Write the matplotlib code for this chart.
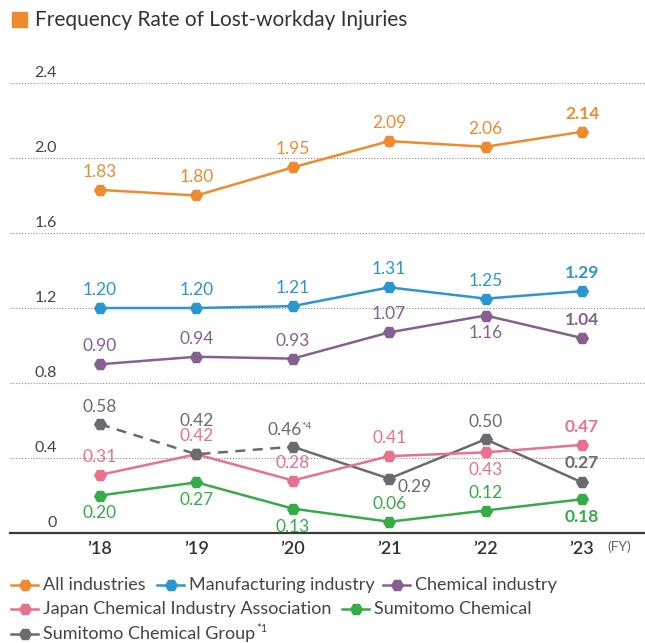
import matplotlib
matplotlib.use("Agg")
from matplotlib import pyplot as plt
from matplotlib.lines import Line2D
from matplotlib.patches import Rectangle

plt.rcParams["font.family"] = ["Lato", "DejaVu Sans"]

years = ["\u201918", "\u201919", "\u201920", "\u201921", "\u201922", "\u201923"]
yticks = [0, 0.4, 0.8, 1.2, 1.6, 2.0, 2.4]
ytick_labels = ["0", "0.4", "0.8", "1.2", "1.6", "2.0", "2.4"]

all_ind = [1.83, 1.80, 1.95, 2.09, 2.06, 2.14]
manuf = [1.20, 1.20, 1.21, 1.31, 1.25, 1.29]
chem = [0.90, 0.94, 0.93, 1.07, 1.16, 1.04]
jcia = [0.31, 0.42, 0.28, 0.41, 0.43, 0.47]
sumi = [0.20, 0.27, 0.13, 0.06, 0.12, 0.18]
group = [0.58, 0.42, 0.46, 0.29, 0.50, 0.27]

names = ["All industries", "Manufacturing industry", "Chemical industry",
         "Japan Chemical Industry Association", "Sumitomo Chemical",
         "Sumitomo Chemical Group"]
colors = ["#EF8B2F", "#2B97CF", "#86618F", "#E8718F", "#36AB47", "#6A6B70"]

# label placement: +1 above, -1 below
pos_all = [1, 1, 1, 1, 1, 1]
pos_manuf = [1, 1, 1, 1, 1, 1]
pos_chem = [1, 1, 1, 1, -1, 1]
pos_jcia = [1, 1, 1, 1, -1, 1]
pos_sumi = [-1, -1, -1, 1, 1, -1]

fig = plt.figure(figsize=(6.45, 6.43), dpi=100)
W, H = 645, 643
ax = fig.add_axes([10 / W, 110 / H, 635 / W, 488 / H])
ax.set_ylim(0, 488 / 187.5)
ax.set_xlim((10 - 100) / 96.4, (645 - 100) / 96.4)

for s in ["top", "right", "left"]:
    ax.spines[s].set_visible(False)
ax.spines["bottom"].set_color("#3a3a3a")
ax.spines["bottom"].set_linewidth(1.6)

for v in yticks[1:]:
    ax.axhline(v, color="#8a8a8a", linestyle=(0, (1, 1.6)), linewidth=0.8, zorder=0)
for v, lab in zip(yticks, ytick_labels):
    ax.annotate(lab, ((57 - 100) / 96.4, v), xytext=(0, 10), textcoords="offset pixels",
                ha="right", va="center", fontsize=11.5, color="#444444")

ax.set_yticks([])
ax.set_xticks(range(len(years)), years)
ax.tick_params(axis="x", length=0, pad=6, labelsize=13, labelcolor="#333333")
for lbl in ax.get_xticklabels():
    lbl.set_fontweight("semibold")
fig.text(631 / W, 1 - 547 / H, "(FY)", fontsize=10, color="#666666", ha="right", va="center")

x = list(range(6))
mk = dict(marker="H", markersize=9.5, linewidth=1.8, markeredgewidth=0)


def draw(vals, color, pos):
    ax.plot(x, vals, color=color, zorder=3, **mk)
    for i, (v, p) in enumerate(zip(vals, pos)):
        ax.annotate(f"{v:.2f}", (i, v), xytext=(0, 18 * p), textcoords="offset pixels",
                    ha="center", va="center", fontsize=12.5, color=color,
                    fontweight="bold" if i == 5 else "normal", zorder=5)


draw(all_ind, colors[0], pos_all)
draw(manuf, colors[1], pos_manuf)
draw(chem, colors[2], pos_chem)
draw(jcia, colors[3], pos_jcia)
draw(sumi, colors[4], pos_sumi)

# Sumitomo Chemical Group: dashed for first three points
gc = colors[5]
ax.plot(x[:3], group[:3], color=gc, linestyle=(0, (4, 3)), linewidth=1.8, zorder=2)
ax.plot(x[2:], group[2:], color=gc, linewidth=1.8, zorder=2)
ax.plot(x, group, color=gc, linestyle="none", marker="H", markersize=9.5,
        markeredgewidth=0, zorder=3)
g_off = [(0, 17), (0, 33), (9, 17), (25, -8), (0, 17), (0, 19)]
for i, v in enumerate(group):
    dx, dy = g_off[i]
    ha = "right" if i == 2 else "center"
    ax.annotate(f"{v:.2f}", (i, v), xytext=(dx, dy), textcoords="offset pixels",
                ha=ha, va="center", fontsize=12.5, color=gc,
                fontweight="bold" if i == 5 else "normal", zorder=5)
ax.annotate("*4", (2, group[2]), xytext=(9, 20), textcoords="offset pixels",
            ha="left", va="center", fontsize=7.5, color=gc)

# title
fig.add_artist(Rectangle((12 / W, 1 - 27 / H), 15 / W, 15 / H,
                         transform=fig.transFigure, color=colors[0]))
fig.text(35 / W, 1 - 20 / H, "Frequency Rate of Lost-workday Injuries",
         fontsize=15, color="#333333", ha="left", va="center")

# legend, drawn by hand to match row layout
legend_rows = [(0, 585, 11), (1, 585, 157), (2, 585, 383),
               (3, 609, 11), (4, 609, 342), (5, 634, 11)]
for idx, ypx, xpx in legend_rows:
    yf = 1 - ypx / H
    fig.add_artist(Line2D([xpx / W, (xpx + 27) / W], [yf, yf], color=colors[idx],
                          linewidth=1.8, transform=fig.transFigure))
    fig.add_artist(Line2D([(xpx + 13.5) / W], [yf], color=colors[idx], marker="H",
                          markersize=9.5, markeredgewidth=0, transform=fig.transFigure))
    t = fig.text((xpx + 32) / W, yf, names[idx], fontsize=13, color="#444444",
                 ha="left", va="center")
    if idx == 5:
        fig.canvas.draw()
        bb = t.get_window_extent()
        fig.text((bb.x1 + 1) / W, yf + 5 / H, "*1", fontsize=8,
                 color="#444444", ha="left", va="center")

fig.savefig("out.png", dpi=100)
